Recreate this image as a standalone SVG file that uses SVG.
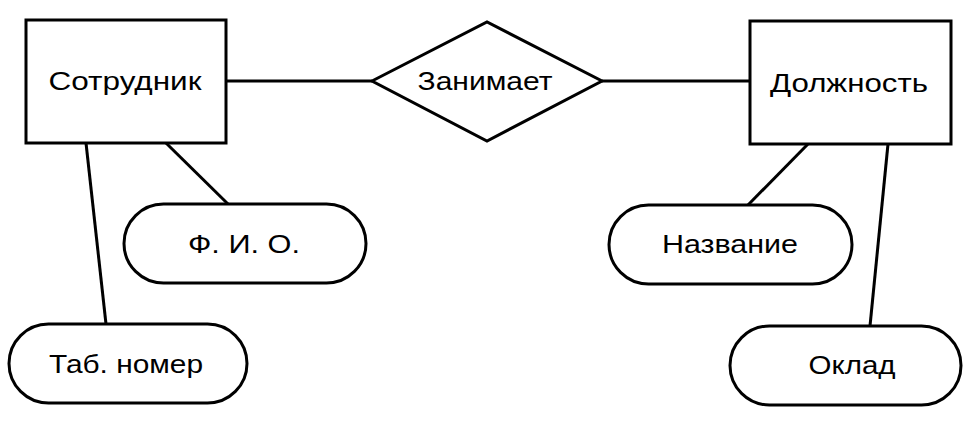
<svg xmlns="http://www.w3.org/2000/svg" width="963" height="432" viewBox="0 0 963 432">
<style>
.s{fill:#fff;stroke:#000;stroke-width:3}
.c line{stroke:#000;stroke-width:3}
text{font-family:"Liberation Sans",Arial,sans-serif;font-size:25px;fill:#000;text-anchor:middle}
</style>
<rect width="963" height="432" fill="#fff"/>
<g class="c" id="connectors">
<line x1="226" y1="81" x2="372" y2="81"/>
<line x1="602" y1="81" x2="750" y2="81"/>
<line x1="86" y1="143" x2="106" y2="324"/>
<line x1="166" y1="143" x2="228" y2="204"/>
<line x1="808" y1="144" x2="748" y2="205"/>
<line x1="888" y1="144" x2="870" y2="326"/>
</g>
<g id="sotrudnik">
<rect class="s" x="26" y="20" width="200" height="123"/>
<text x="125" y="90" textLength="153" lengthAdjust="spacingAndGlyphs">Сотрудник</text>
</g>
<g id="zanimaet">
<polygon class="s" points="372,81 487,22 602,81 487,141"/>
<text x="485" y="90" textLength="135" lengthAdjust="spacingAndGlyphs">Занимает</text>
</g>
<g id="dolzhnost">
<rect class="s" x="750" y="21" width="201" height="123"/>
<text x="849" y="92" textLength="158" lengthAdjust="spacingAndGlyphs">Должность</text>
</g>
<g id="fio">
<rect class="s" x="124" y="204" width="242" height="79" rx="39.5"/>
<text x="244" y="253" textLength="112" lengthAdjust="spacingAndGlyphs">Ф. И. О.</text>
</g>
<g id="tabnomer">
<rect class="s" x="9" y="324" width="238" height="79" rx="39.5"/>
<text x="126" y="373" textLength="154" lengthAdjust="spacingAndGlyphs">Таб. номер</text>
</g>
<g id="nazvanie">
<rect class="s" x="609" y="205" width="243" height="79" rx="39.5"/>
<text x="730" y="253" textLength="136" lengthAdjust="spacingAndGlyphs">Название</text>
</g>
<g id="oklad">
<rect class="s" x="730" y="326" width="231" height="79" rx="39.5"/>
<text x="852" y="374" textLength="87" lengthAdjust="spacingAndGlyphs">Оклад</text>
</g>
</svg>
